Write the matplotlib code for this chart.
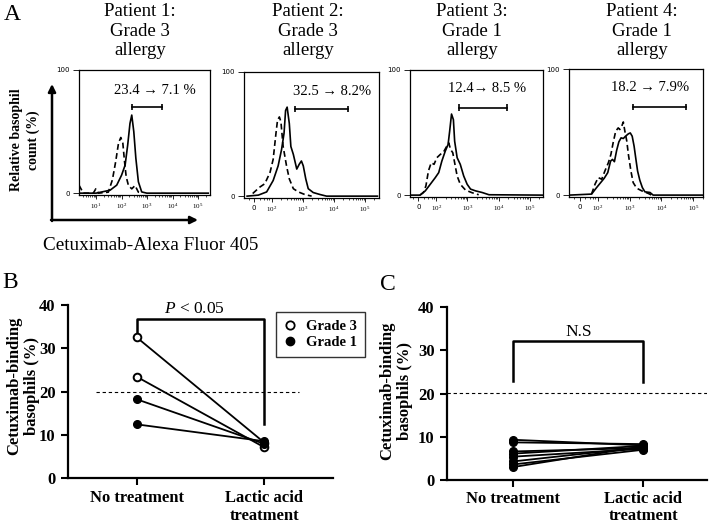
import numpy as np
import matplotlib.pyplot as plt
from matplotlib.lines import Line2D

plt.rcParams['font.family'] = ['Liberation Serif', 'DejaVu Serif']
plt.rcParams['mathtext.fontset'] = 'custom'
plt.rcParams['mathtext.rm'] = 'Liberation Serif'
plt.rcParams['mathtext.it'] = 'Liberation Serif:italic'

# ---- panel A: flow histograms (x in decades, 2 -> 10^2; y in % of max) ----
PATIENTS = ['Patient 1:\nGrade 3\nallergy', 'Patient 2:\nGrade 3\nallergy',
            'Patient 3:\nGrade 1\nallergy', 'Patient 4:\nGrade 1\nallergy']

P1_SOLID_X = [0.33, 1.0, 1.55, 1.81, 2.0, 2.14, 2.24, 2.33, 2.40, 2.48, 2.56, 2.66, 2.79, 2.99, 5.4]
P1_SOLID_Y = [0, 0, 2.4, 6.5, 14.6, 22.8, 39, 56.6, 63.4, 49.9, 28.5, 9.2, 1, 0, 0]
P1_DASH_X = [0.33, 0.50, 0.89, 0.99, 1.09, 1.48, 1.64, 1.77, 1.88, 1.97, 2.05, 2.11, 2.18,
             2.27, 2.40, 2.53, 2.66, 2.79]
P1_DASH_Y = [6.5, 0, 0, 3.5, 0, 0.8, 10.8, 25.7, 40.6, 45.2, 40.6, 27, 13.5, 6.2, 3.5, 6.2, 0.8, 0]

P2_SOLID_X = [1.2, 1.56, 1.83, 2.04, 2.20, 2.31, 2.39, 2.44, 2.49, 2.56, 2.61, 2.69, 2.80, 2.88,
              2.95, 3.01, 3.09, 3.17, 3.33, 3.55, 3.76, 5.4]
P2_SOLID_Y = [0, 0.8, 3.4, 12.6, 24.4, 37.5, 50.6, 69, 71.7, 58.5, 40, 33.6, 21.8, 25.7, 28.3,
              24.4, 13.9, 6, 2.9, 1.3, 0, 0]
P2_DASH_X = [1.38, 1.61, 1.77, 1.94, 2.04, 2.13, 2.18, 2.24, 2.29, 2.36, 2.47, 2.56, 2.69, 2.85,
             3.06, 3.28]
P2_DASH_Y = [2.1, 7.3, 10, 19.2, 29.7, 50.6, 61.2, 63.8, 59.8, 40.2, 24.4, 13.9, 6, 3.4, 1.3, 0]

P3_SOLID_X = [1.2, 1.48, 1.65, 1.81, 1.97, 2.08, 2.18, 2.29, 2.38, 2.43, 2.49, 2.55, 2.59, 2.67,
              2.77, 2.88, 2.99, 3.10, 3.26, 3.47, 3.69, 5.4]
P3_SOLID_Y = [0, 0, 3.4, 8.7, 14, 18, 27.2, 35.2, 40.5, 51, 64.8, 60.3, 43.1, 29.9, 24.6, 15.3,
              8.7, 4.8, 3.4, 2.1, 0.3, 0]
P3_DASH_X = [1.48, 1.59, 1.67, 1.75, 1.84, 1.93, 2.02, 2.13, 2.24, 2.34, 2.40, 2.46, 2.53, 2.59,
             2.67, 2.77, 2.94, 3.15, 3.36]
P3_DASH_Y = [0, 2.1, 7.4, 19.3, 25.9, 24.6, 29.9, 32.5, 34.7, 39.2, 41.8, 36.5, 33.9, 25.9, 15.3,
             8.7, 4, 1.9, 0.3]

P4_SOLID_X = [1.1, 1.80, 1.96, 2.09, 2.20, 2.31, 2.40, 2.46, 2.52, 2.59, 2.66, 2.73, 2.80, 2.87,
              2.96, 3.02, 3.08, 3.14, 3.19, 3.25, 3.32, 3.40, 3.48, 3.64, 3.74, 5.3]
P4_SOLID_Y = [0, 0.8, 6, 10, 13.4, 17.8, 27, 28.3, 26.5, 35.4, 42.2, 45.4, 44.9, 46.7, 48.6, 49.3,
              46.7, 38.8, 29.7, 19.1, 11.8, 6, 2.6, 2.1, 0, 0]
P4_DASH_X = [1.80, 1.91, 2.01, 2.12, 2.22, 2.33, 2.41, 2.48, 2.56, 2.64, 2.69, 2.75, 2.80, 2.85,
             2.91, 2.96, 3.04, 3.11, 3.22, 3.38, 3.59, 3.69]
P4_DASH_Y = [0.8, 8.7, 13.9, 12.6, 19.1, 25.7, 32.3, 41.5, 50.6, 53.3, 52, 54.6, 58, 50.6, 42.8,
             32.3, 19.1, 10, 5.5, 3.4, 1.3, 0]

GATE_LABELS = ['23.4 \u2192 7.1 %', '32.5 \u2192 8.2%', '12.4\u2192 8.5 %', '18.2 \u2192 7.9%']
GATE_START = [2.42, 2.74, 2.72, 3.11]
GATE_END = [3.60, 4.46, 4.26, 4.77]

# ---- panels B and C ----
GROUPS = ['No treatment', 'Lactic acid\ntreatment']
G3_BEFORE = [32.5, 23.4]
G3_AFTER = [8.2, 7.1]
G1_BEFORE = [18.2, 12.4]
G1_AFTER = [7.9, 8.5]
CUTOFF = 20

C_BEFORE = [9.3, 8.7, 6.6, 6.1, 5.4, 4.3, 3.6, 3.0]
C_AFTER = [8.0, 8.3, 7.4, 7.9, 7.2, 7.6, 7.0, 7.8]

W, H = 709, 524
fig = plt.figure(figsize=(W / 100, H / 100), dpi=100)


def px_axes(l, t, r, b):
    return fig.add_axes([l / W, 1 - b / H, (r - l) / W, (b - t) / H])


# overlay for free text / arrows in pixel coords
ov = fig.add_axes([0, 0, 1, 1], zorder=-1)
ov.set_xlim(0, W)
ov.set_ylim(H, 0)
ov.axis('off')

ov.text(12, 15, 'A', fontsize=17, ha='center', va='center')
ov.text(10, 283, 'B', fontsize=17, ha='center', va='center')
ov.text(388, 284, 'C', fontsize=17, ha='center', va='center')

ov.annotate('', xy=(52, 84), xytext=(52, 221),
            arrowprops=dict(arrowstyle='-|>', lw=1.8, color='k', mutation_scale=11, shrinkA=0, shrinkB=0))
ov.annotate('', xy=(198, 220), xytext=(51, 220),
            arrowprops=dict(arrowstyle='-|>', lw=1.8, color='k', mutation_scale=11, shrinkA=0, shrinkB=0))
ov.text(25, 140, 'Relative basophil\ncount (%)', rotation=90, fontsize=10, fontweight='bold',
        ha='center', va='center', linespacing=1.25)
ov.text(151, 245, 'Cetuximab-Alexa Fluor 405', fontsize=13.8, ha='center', va='center')

title_x = [140, 308, 472, 642]
for tx, t in zip(title_x, PATIENTS):
    ov.text(tx, 31, t, fontsize=13.5, ha='center', va='center', linespacing=1.18)

# y labels of B and C
ov.text(23, 386, 'Cetuximab-binding\nbasophils (%)', rotation=90, fontsize=12, fontweight='bold',
        ha='center', va='center', linespacing=1.15)
ov.text(396, 391, 'Cetuximab-binding\nbasophils (%)', rotation=90, fontsize=12, fontweight='bold',
        ha='center', va='center', linespacing=1.15)

boxes = [(79, 70, 210, 195), (244, 72, 379, 198), (410, 70, 543, 197), (569, 69, 703, 197)]
xlims = [(0.33, 5.47), (1.10, 5.45), (1.16, 5.42), (1.09, 5.31)]
curves = [(P1_SOLID_X, P1_SOLID_Y, P1_DASH_X, P1_DASH_Y),
          (P2_SOLID_X, P2_SOLID_Y, P2_DASH_X, P2_DASH_Y),
          (P3_SOLID_X, P3_SOLID_Y, P3_DASH_X, P3_DASH_Y),
          (P4_SOLID_X, P4_SOLID_Y, P4_DASH_X, P4_DASH_Y)]
label_pos = [(3.31, 83), (3.94, 84), (3.63, 85), (3.64, 85)]

for i in range(4):
    ax = px_axes(*boxes[i])
    sx, sy, dx, dy = curves[i]
    ax.plot(sx, sy, color='k', lw=1.2)
    ax.plot(dx, dy, color='k', lw=1.2, ls=(0, (3.5, 2)))
    ax.set_xlim(*xlims[i])
    ax.set_ylim(-1.5, 100)
    if i == 0:
        ax.set_xticks([1, 2, 3, 4, 5], ['$10^1$', '$10^2$', '$10^3$', '$10^4$', '$10^5$'])
        minors = [d + np.log10(k) for d in range(0, 6) for k in range(2, 10)]
    else:
        ax.set_xticks([1.43, 2, 3, 4, 5], ['0', '$10^2$', '$10^3$', '$10^4$', '$10^5$'])
        minors = [1.25, 1.6, 1.75, 1.85, 1.92] + [d + np.log10(k) for d in range(2, 6) for k in range(2, 10)]
    lo, hi = xlims[i]
    ax.set_xticks([m for m in minors if lo < m < hi], minor=True)
    ax.set_yticks([0, 100], ['0', '100'])
    ax.tick_params(axis='both', which='major', labelsize=5, length=3, width=0.6, pad=2,
                   labelfontfamily='DejaVu Sans')
    ax.tick_params(axis='y', which='major', length=4.5)
    ax.tick_params(axis='x', which='minor', length=1.5, width=0.5)
    for s in ax.spines.values():
        s.set_linewidth(0.9)
    gy = 70
    ax.plot([GATE_START[i], GATE_END[i]], [gy, gy], color='k', lw=1.2)
    ax.vlines([GATE_START[i], GATE_END[i]], gy - 2.5, gy + 2.5, color='k', lw=1.2)
    lx, ly = label_pos[i]
    ax.text(lx, ly, GATE_LABELS[i], fontsize=10.5, ha='center', va='center')


def style_dot_axes(ax, xlo, xhi, pad):
    ax.set_xlim(xlo, xhi)
    ax.set_ylim(0, 40)
    ax.set_xticks([0, 1], GROUPS)
    ax.set_yticks([0, 10, 20, 30, 40])
    ax.spines['top'].set_visible(False)
    ax.spines['right'].set_visible(False)
    ax.spines['left'].set_linewidth(1.6)
    ax.spines['bottom'].set_linewidth(1.6)
    ax.tick_params(axis='both', length=5, width=1.5, labelsize=12)
    ax.tick_params(axis='x', pad=pad)
    ax.tick_params(axis='y', pad=4)
    for lab in ax.get_xticklabels() + ax.get_yticklabels():
        lab.set_fontweight('bold')
        lab.set_linespacing(1.1)


# ---- panel B ----
axB = px_axes(68, 305, 333, 478)
style_dot_axes(axB, -0.54, 1.54, 4)
axB.plot([-0.32, 1.27], [CUTOFF, CUTOFF], color='k', lw=0.8, ls=(0, (3, 2.5)))
for b, a in zip(G3_BEFORE, G3_AFTER):
    axB.plot([0, 1], [b, a], color='k', lw=1.3, marker='o', ms=5.5, mfc='white', mec='k',
             mew=1.4, clip_on=False, zorder=3)
for b, a in zip(G1_BEFORE, G1_AFTER):
    axB.plot([0, 1], [b, a], color='k', lw=1.3, marker='o', ms=5.5, mfc='k', mec='k',
             clip_on=False, zorder=4)
axB.plot([0, 0, 1, 1], [33.5, 36.8, 36.8, 12.5], color='k', lw=1.8, clip_on=False)
axB.text(0.45, 39.1, '$P$ < 0.05', fontsize=12.5, ha='center', va='center')
handles = [Line2D([], [], ls='none', marker='o', ms=6, mfc='white', mec='k', mew=1.3),
           Line2D([], [], ls='none', marker='o', ms=6, mfc='k', mec='k')]
leg = axB.legend(handles, ['Grade 3', 'Grade 1'], loc='upper left',
                 bbox_to_anchor=(276 / W, 1 - 312 / H), bbox_transform=fig.transFigure,
                 borderaxespad=0, frameon=True, fancybox=False, edgecolor='k',
                 handlelength=0.8, handletextpad=0.7, borderpad=0.55, labelspacing=0.2,
                 prop={'weight': 'bold', 'size': 10.5})
leg.get_frame().set_linewidth(1.0)

# ---- panel C ----
axC = px_axes(447, 307, 707, 480)
style_dot_axes(axC, -0.51, 1.49, 3)
axC.axhline(20.2, color='k', lw=0.8, ls=(0, (3, 2.5)))
for b, a in zip(C_BEFORE, C_AFTER):
    axC.plot([0, 1], [b, a], color='k', lw=1.3, marker='o', ms=5.5, mfc='k', mec='k',
             clip_on=False, zorder=3)
axC.plot([0, 0, 1, 1], [22.9, 32.1, 32.1, 22.6], color='k', lw=1.8, clip_on=False)
axC.text(0.5, 34.2, 'N.S', fontsize=12.5, ha='center', va='center')

fig.savefig('out.png', dpi=100)
